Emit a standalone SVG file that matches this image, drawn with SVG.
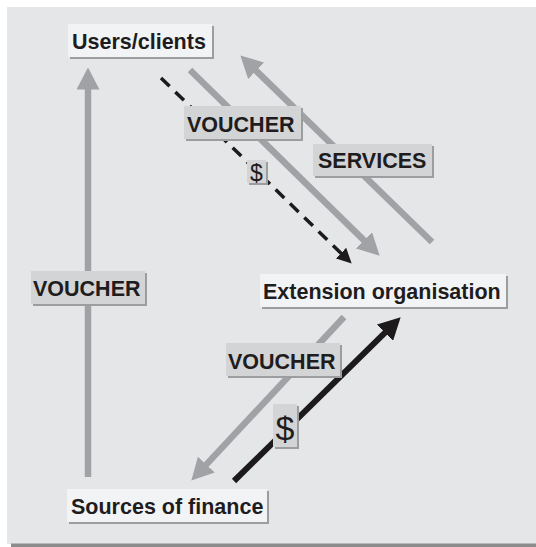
<svg xmlns="http://www.w3.org/2000/svg" width="536" height="547" viewBox="0 0 536 547">
<defs>
<style>
.node{fill:#f2f3f5}
.lab{fill:#d3d4d6}
.sh{fill:#9c9d9f}
.t{font-family:"Liberation Sans",Arial,sans-serif;font-weight:bold;font-size:21.5px;fill:#1f1c1d}
.d{font-family:"Liberation Sans",Arial,sans-serif;font-weight:normal;fill:#1f1c1d}
.g{stroke:#a1a2a5;stroke-width:6.5;fill:none}
.k{stroke:#1c1a1b;fill:none}
</style>
<marker id="hg" markerUnits="userSpaceOnUse" viewBox="0 0 22 23" markerWidth="22" markerHeight="23" refX="0.5" refY="11.5" orient="auto"><path d="M0,0 L22,11.5 L0,23 Z" fill="#a1a2a5"/></marker>
<marker id="hk" markerUnits="userSpaceOnUse" viewBox="0 0 22 23" markerWidth="22" markerHeight="23" refX="0.5" refY="11.5" orient="auto"><path d="M0,0 L22,11.5 L0,23 Z" fill="#1c1a1b"/></marker>
<marker id="hks" markerUnits="userSpaceOnUse" viewBox="0 0 15 15" markerWidth="15" markerHeight="15" refX="0.5" refY="7.5" orient="auto"><path d="M0,0 L15,7.5 L0,15 Z" fill="#1c1a1b"/></marker>
</defs>
<rect x="0" y="0" width="536" height="547" fill="#ffffff"/>
<rect x="7" y="7" width="529" height="537" fill="#e5e6e8"/>
<rect x="11" y="543.5" width="525" height="3.5" fill="#8c8c8d"/>

<g id="connectors">
<path class="g" d="M88,477 L88,89" marker-end="url(#hg)"/>
<path class="g" d="M190,70 L364.3,240.6" marker-end="url(#hg)"/>
<path class="g" d="M432,242 L255.8,70.4" marker-end="url(#hg)"/>
<path class="k" d="M161,78 L341.3,253.5" stroke-width="3.5" stroke-dasharray="12,8" marker-end="url(#hks)"/>
<path class="g" d="M344,317 L206,464.9" marker-end="url(#hg)"/>
<path class="k" d="M234,481 L385.3,332.4" stroke-width="6" marker-end="url(#hk)"/>
</g>

<g id="labels">
<g id="label-voucher-left">
<rect class="sh" x="33" y="273" width="114" height="33"/>
<rect class="lab" x="31" y="271" width="114" height="33"/>
<text class="t" x="33" y="296">VOUCHER</text>
</g>
<g id="label-voucher-top">
<rect class="sh" x="186" y="108" width="117" height="33"/>
<rect class="lab" x="184" y="106" width="117" height="33"/>
<text class="t" x="187" y="131.5">VOUCHER</text>
</g>
<g id="label-services">
<rect class="sh" x="315" y="146" width="119" height="32"/>
<rect class="lab" x="313" y="144" width="119" height="32"/>
<text class="t" x="318" y="168">SERVICES</text>
</g>
<g id="label-dollar-small">
<rect class="sh" x="249" y="162" width="19" height="23"/>
<rect class="lab" x="247" y="160" width="19" height="23"/>
<text class="d" x="250" y="181" font-size="23">$</text>
</g>
<g id="label-voucher-bottom">
<rect class="sh" x="228" y="345" width="114" height="33"/>
<rect class="lab" x="226" y="343" width="114" height="33"/>
<text class="t" x="228" y="368.5">VOUCHER</text>
</g>
<g id="label-dollar-big">
<rect class="sh" x="275" y="406" width="24" height="43"/>
<rect class="lab" x="273" y="404" width="24" height="43"/>
<text class="d" x="275.5" y="440" font-size="34">$</text>
</g>
</g>

<g id="node-users">
<rect class="sh" x="70" y="26" width="144" height="33"/>
<rect class="node" x="68" y="24" width="144" height="33"/>
<text class="t" x="72" y="49">Users/clients</text>
</g>
<g id="node-extension">
<rect class="sh" x="262" y="276" width="246" height="33"/>
<rect class="node" x="260" y="274" width="246" height="33"/>
<text class="t" x="263" y="299">Extension organisation</text>
</g>
<g id="node-sources">
<rect class="sh" x="69" y="491" width="200" height="33"/>
<rect class="node" x="67" y="489" width="200" height="33"/>
<text class="t" x="71" y="514">Sources of finance</text>
</g>
</svg>
